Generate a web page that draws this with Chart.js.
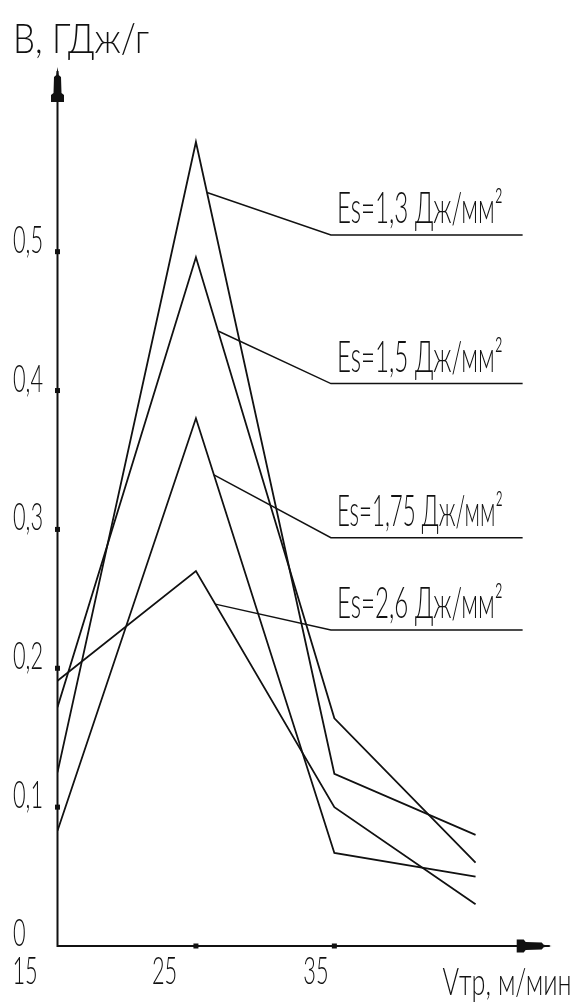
<!DOCTYPE html>
<html>
<head>
<meta charset="utf-8">
<script src="https://cdn.jsdelivr.net/npm/chart.js@4"></script>
<style>
  html, body { margin: 0; padding: 0; background: #fff; }
  canvas { display: block; }
</style>
</head>
<body>
<canvas id="chart" width="575" height="1003"></canvas>
<script>
// friction speed, m/min
const speeds = [15, 25, 35, 45.2];
// B, GJ/g for each specific energy Es
const es13 = [0.125, 0.579, 0.124, 0.080];
const es15 = [0.172, 0.496, 0.164, 0.060];
const es175 = [0.083, 0.380, 0.067, 0.050];
const es26 = [0.191, 0.270, 0.100, 0.030];
const seriesLabels = ["Es=1,3 Дж/мм²", "Es=1,5 Дж/мм²", "Es=1,75 Дж/мм²", "Es=2,6 Дж/мм²"];

// callouts: where the leader leaves the curve, and the shelf it ends on
const leaderFromX = [25.8, 26.6, 26.3, 26.4];
const shelfY = [0.512, 0.405, 0.294, 0.2275];
const shelfX = [34.75, 48.6];

const yTicks = [0.1, 0.2, 0.3, 0.4, 0.5];
const yTickLabels = ["0,1", "0,2", "0,3", "0,4", "0,5"];
const xTicks = [15, 25, 35];
const xTickLabels = ["15", "25", "35"];
const xMin = 15, xMax = 50.7, yMin = 0, yMax = 0.633;

const INK = "#111";
const FONT = 'Lato, "Liberation Sans Narrow", "Noto Sans", sans-serif';

const allSeries = [es13, es15, es175, es26];

const toPoints = (vals) => speeds.map((s, i) => ({ x: s, y: vals[i] }));

// squeeze text horizontally so it fits the narrow drafting look
function fitText(ctx, text, x, y, cap, width) {
  ctx.font = `300 ${cap / 0.72}px ${FONT}`;
  const sx = width / ctx.measureText(text).width;
  ctx.save();
  ctx.translate(x, y);
  ctx.scale(sx, 1);
  ctx.textAlign = "left";
  ctx.textBaseline = "alphabetic";
  ctx.fillText(text, 0, 0);
  ctx.restore();
}

function squeezed(ctx, text, x, y, cap, sx) {
  ctx.font = `300 ${cap / 0.72}px ${FONT}`;
  ctx.save();
  ctx.translate(x, y);
  ctx.scale(sx, 1);
  ctx.textAlign = "left";
  ctx.textBaseline = "alphabetic";
  ctx.fillText(text, 0, 0);
  ctx.restore();
}

function arrowHead(ctx, tipX, tipY, angle) {
  const shape = [[0, 0], [8, 1.2], [10, 3.5], [26, 4], [28, 6.5], [35, 6.5],
                 [35, -6.5], [28, -6.5], [26, -4], [10, -3.5], [8, -1.2]];
  ctx.save();
  ctx.translate(tipX, tipY);
  ctx.rotate(angle);
  ctx.beginPath();
  shape.forEach(([a, b], i) => (i ? ctx.lineTo(a, b) : ctx.moveTo(a, b)));
  ctx.closePath();
  ctx.fill();
  ctx.restore();
}

const axesPlugin = {
  id: "draftAxes",
  beforeDatasetsDraw(chart) {
    const { ctx, chartArea: area } = chart;
    const sx = chart.scales.x, sy = chart.scales.y;
    const x0 = sx.getPixelForValue(xMin);
    const y0 = sy.getPixelForValue(yMin);
    ctx.save();
    ctx.strokeStyle = INK;
    ctx.fillStyle = INK;
    ctx.lineWidth = 2;
    ctx.beginPath();
    ctx.moveTo(x0, area.top + 4);
    ctx.lineTo(x0, y0);
    ctx.lineTo(area.right - 2, y0);
    ctx.stroke();
    arrowHead(ctx, x0, area.top, Math.PI / 2);
    arrowHead(ctx, area.right, y0, Math.PI);

    // tick squares
    yTicks.forEach((v) => ctx.fillRect(x0 - 2.5, sy.getPixelForValue(v) - 2.5, 5, 5));
    xTicks.slice(1).forEach((v) => ctx.fillRect(sx.getPixelForValue(v) - 2.5, y0 - 2.5, 5, 5));
    ctx.restore();
  },
  afterDatasetsDraw(chart) {
    const { ctx } = chart;
    const sx = chart.scales.x, sy = chart.scales.y;
    const x0 = sx.getPixelForValue(xMin);
    const y0 = sy.getPixelForValue(yMin);
    ctx.save();
    ctx.fillStyle = INK;
    ctx.strokeStyle = INK;

    // tick labels, same squeeze for all
    ctx.font = `300 ${27 / 0.72}px ${FONT}`;
    const tickSqueeze = 30 / ctx.measureText("0,5").width;
    yTicks.forEach((v, i) => squeezed(ctx, yTickLabels[i], 13, sy.getPixelForValue(v) + 1, 27, tickSqueeze));
    squeezed(ctx, "0", 13, y0, 27, tickSqueeze);
    const xLabelShift = [-45, -44, -31];
    xTicks.forEach((v, i) => squeezed(ctx, xTickLabels[i], sx.getPixelForValue(v) + xLabelShift[i], y0 + 38, 27, tickSqueeze));

    // axis titles
    fitText(ctx, "В, ГДж/г", 13, 53, 30, 136);
    fitText(ctx, "Vтр, м/мин", x0 + 385, y0 + 49, 27, 129);

    // callouts
    ctx.lineWidth = 1.5;
    allSeries.forEach((vals, i) => {
      const fx = leaderFromX[i];
      const t = (fx - speeds[1]) / (speeds[2] - speeds[1]);
      const fy = vals[1] + t * (vals[2] - vals[1]);
      const shelfPy = sy.getPixelForValue(shelfY[i]);
      const leftPx = sx.getPixelForValue(shelfX[0]);
      ctx.beginPath();
      ctx.moveTo(sx.getPixelForValue(fx), sy.getPixelForValue(fy));
      ctx.lineTo(leftPx, shelfPy);
      ctx.lineTo(sx.getPixelForValue(shelfX[1]), shelfPy);
      ctx.stroke();
      fitText(ctx, seriesLabels[i], leftPx + 6, shelfPy - 12, 31, 166);
    });
    ctx.restore();
  },
};

const datasets = allSeries.map((vals, i) => ({
  label: seriesLabels[i],
  data: toPoints(vals),
  borderColor: INK,
  borderWidth: 1.8,
  pointRadius: 0,
  tension: 0,
  fill: false,
}));

new Chart(document.getElementById("chart"), {
  type: "line",
  data: { datasets },
  options: {
    responsive: false,
    animation: false,
    devicePixelRatio: 1,
    layout: { padding: { left: 57.5, right: 23.3, top: 67, bottom: 57 } },
    scales: {
      x: { type: "linear", min: xMin, max: xMax, display: false },
      y: { type: "linear", min: yMin, max: yMax, display: false },
    },
    plugins: { legend: { display: false }, tooltip: { enabled: false } },
    elements: { line: { borderJoinStyle: "miter" } },
  },
  plugins: [axesPlugin],
});
</script>
</body>
</html>
